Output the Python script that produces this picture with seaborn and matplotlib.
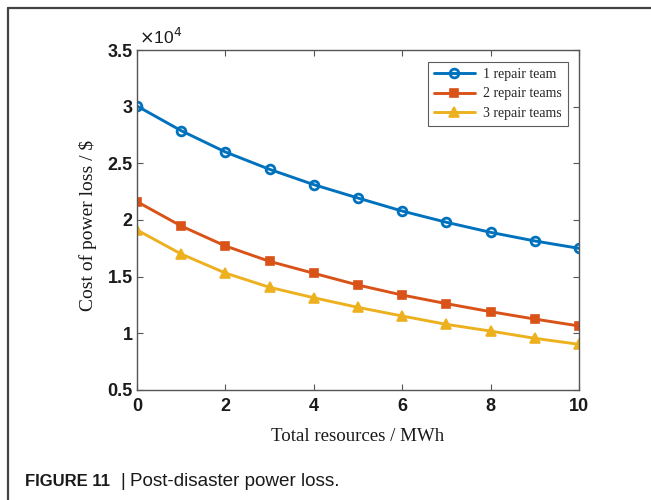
import matplotlib
matplotlib.use("Agg")
import matplotlib.pyplot as plt
import seaborn as sns
import pandas as pd
from matplotlib.lines import Line2D

resources = [0, 1, 2, 3, 4, 5, 6, 7, 8, 9, 10]
one_team = [30060, 27880, 26000, 24470, 23120, 21940, 20790, 19800, 18910, 18150, 17500]
two_teams = [21620, 19470, 17710, 16350, 15300, 14260, 13380, 12620, 11910, 11260, 10650]
three_teams = [19120, 17000, 15320, 14060, 13140, 12290, 11530, 10790, 10200, 9560, 9030]
series_names = ["1 repair team", "2 repair teams", "3 repair teams"]
colors = ["#0072BD", "#D95319", "#EDB120"]
y_ticks = [0.5, 1, 1.5, 2, 2.5, 3, 3.5]
y_tick_labels = ["0.5", "1", "1.5", "2", "2.5", "3", "3.5"]
x_ticks = [0, 2, 4, 6, 8, 10]

sns.set_theme(style="white")
plt.rcParams["font.family"] = ["Liberation Sans", "DejaVu Sans"]

fig = plt.figure(figsize=(6.51, 5.0), dpi=100)
ax = fig.add_axes([0.2104, 0.22, 0.679, 0.68])

frames = []
for name, vals in zip(series_names, [one_team, two_teams, three_teams]):
    frames.append(pd.DataFrame({"x": resources, "y": [v / 1e4 for v in vals], "s": name}))
df = pd.concat(frames)

styles = {
    "1 repair team": dict(marker="o", mfc="none", ms=6.3, mew=2.0),
    "2 repair teams": dict(marker="s", ms=6.0, mew=1.2),
    "3 repair teams": dict(marker="^", ms=7.0, mew=1.2),
}
for name, c in zip(series_names, colors):
    sub = df[df["s"] == name]
    st = styles[name]
    sns.lineplot(data=sub, x="x", y="y", ax=ax, color=c, lw=2.1,
                 marker=st["marker"], markersize=st["ms"],
                 markerfacecolor=st.get("mfc", c), markeredgecolor=c,
                 markeredgewidth=st["mew"], label=name)

ax.set_xlim(0, 10)
ax.set_ylim(0.5, 3.5)
ax.set_xticks(x_ticks)
ax.set_xticklabels([str(t) for t in x_ticks], fontweight="bold", fontsize=13)
ax.set_yticks(y_ticks)
ax.set_yticklabels(y_tick_labels, fontweight="bold", fontsize=13)
ax.tick_params(direction="in", length=4, width=0.8, color="#555555",
               top=True, right=True, bottom=True, left=True, pad=3,
               labelcolor="#1a1a1a")
ax.tick_params(axis="x", pad=6)
for sp in ax.spines.values():
    sp.set_visible(True)
    sp.set_color("#555555")
    sp.set_linewidth(1.0)

ax.set_xlabel("Total resources / MWh", fontfamily="Liberation Serif", fontsize=13.6,
              color="#1a1a1a", labelpad=9)
ax.set_ylabel("Cost of power loss / $", fontfamily="Liberation Serif", fontsize=14,
              color="#1a1a1a")
ax.yaxis.set_label_coords(-0.0905, 0.485)
ax.text(0.005, 1.01, r"$\times$10$^4$", transform=ax.transAxes, fontsize=12.5,
        ha="left", va="bottom", color="#1a1a1a")

leg = ax.legend(loc="upper right", bbox_to_anchor=(0.975, 0.965), borderaxespad=0,
                frameon=True, fancybox=False, handlelength=2.9, handletextpad=0.6,
                borderpad=0.45, labelspacing=0.45,
                prop={"family": "Liberation Serif", "size": 10})
leg.get_frame().set_edgecolor("#333333")
leg.get_frame().set_linewidth(0.8)

cap_y = 1 - 482 / 500
fig.text(25 / 651, cap_y, "FIGURE 11", fontweight="bold", fontsize=12,
         ha="left", va="center", color="#1a1a1a")
fig.text(120 / 651, cap_y, "|", fontsize=13, ha="left", va="center", color="#1a1a1a")
fig.text(130 / 651, cap_y, "Post-disaster power loss.", fontsize=13.6,
         ha="left", va="center", color="#1a1a1a")

fig.add_artist(Line2D([8 / 651, 1.0], [1 - 8 / 500, 1 - 8 / 500],
                      transform=fig.transFigure, color="#444444", lw=1.6))
fig.add_artist(Line2D([8 / 651, 8 / 651], [0.0, 1 - 8 / 500],
                      transform=fig.transFigure, color="#444444", lw=1.6))

fig.savefig("out.png", dpi=100)
